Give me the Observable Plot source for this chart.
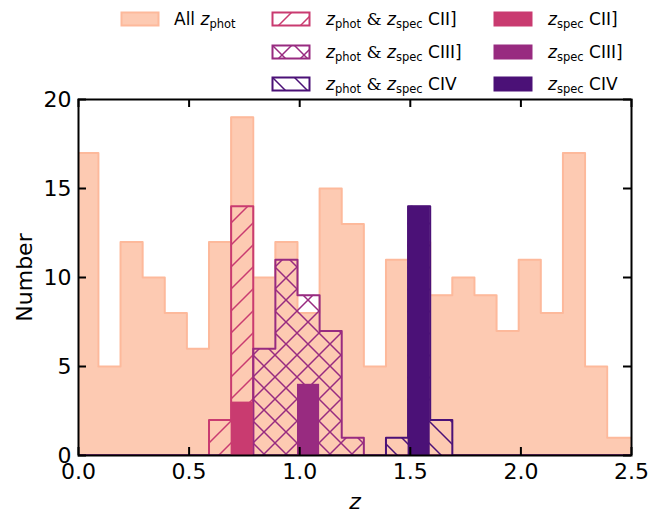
<!DOCTYPE html>
<html><head><meta charset="utf-8">
<script src="https://cdn.jsdelivr.net/npm/d3@7"></script>
<script src="https://cdn.jsdelivr.net/npm/@observablehq/plot@0.6"></script>
<style>
body{margin:0;background:#fff;font-family:"DejaVu Sans",sans-serif;}
#wrap{position:relative;width:662px;height:512px;overflow:hidden;}
#legend{position:relative;height:80px;width:662px;}
.sw{position:absolute;}
.lt{position:absolute;font-size:17px;line-height:20px;white-space:nowrap;color:#000;transform:translateY(-50%);}
.lt i{font-style:italic;}
.lt sub{font-size:11.5px;vertical-align:-3px;line-height:0;}
.lt .amp{font-family:"DejaVu Serif",serif;}
</style>
</head><body>
<div id="wrap"><div id="legend"></div><div id="chart"></div></div>
<script>
// ---- data ----
const binEdges = [-0.01,0.09,0.19,0.29,0.39,0.49,0.59,0.69,0.79,0.89,0.99,1.09,1.19,1.29,1.39,1.49,1.59,1.69,1.79,1.89,1.99,2.09,2.19,2.29,2.39,2.50];
const allPhot   = [17,5,12,10,8,6,12,19,10,12,8,15,13,5,11,12,9,10,9,7,11,8,17,5,1];
const photSpecCII  = [0,0,0,0,0,0,2,14,0,0,0,0,0,0,0,0,0,0,0,0,0,0,0,0,0];
const photSpecCIII = [0,0,0,0,0,0,0,0,6,11,9,7,1,0,0,0,0,0,0,0,0,0,0,0,0];
const photSpecCIV  = [0,0,0,0,0,0,0,0,0,0,0,0,0,0,1,14,2,0,0,0,0,0,0,0,0];
const specCII  = [0,0,0,0,0,0,0,3,0,0,0,0,0,0,0,0,0,0,0,0,0,0,0,0,0];
const specCIII = [0,0,0,0,0,0,0,0,0,0,4,0,0,0,0,0,0,0,0,0,0,0,0,0,0];
const specCIV  = [0,0,0,0,0,0,0,0,0,0,0,0,0,0,0,14,0,0,0,0,0,0,0,0,0];
const xTicks = [0, 0.5, 1.0, 1.5, 2.0, 2.5];
const yTicks = [0, 5, 10, 15, 20];

const colAllFill = "#fdcab2", colAllEdge = "#fdb99b";
const colCII = "#c93b70", colCIII = "#982b80", colCIV = "#4b1177";
const hatchGap = 22;

// ---- helpers ----
function stepPoints(counts){
  return binEdges.map((x,i)=>({x, y: i < counts.length ? counts[i] : counts[counts.length-1]}));
}
function bars(counts){
  return counts.map((c,i)=>({x1: binEdges[i], x2: binEdges[i+1], y: c})).filter(d=>d.y>0);
}
function patternDefs(sel, prefix){
  const defs = sel.append("defs");
  const g = hatchGap, h = g/4;
  const mk = (id, color, d) => defs.append("pattern").attr("id", prefix+id)
      .attr("patternUnits","userSpaceOnUse").attr("width",g).attr("height",g)
      .append("path").attr("d", d).attr("stroke", color).attr("stroke-width",1.5).attr("fill","none");
  const ne = `M${-h},${h}L${h},${-h}M0,${g}L${g},0M${g-h},${g+h}L${g+h},${g-h}`;
  const nw = `M${-h},${g-h}L${h},${g+h}M0,0L${g},${g}M${g-h},${-h}L${g+h},${h}`;
  mk("CII", colCII, ne);
  mk("CIII", colCIII, ne + nw);
  mk("CIV", colCIV, nw);
}

// ---- chart ----
const chart = Plot.plot({
  width: 662, height: 432,
  marginLeft: 78, marginRight: 31, marginTop: 19, marginBottom: 57,
  style: {fontSize: "22px", fontFamily: "DejaVu Sans, sans-serif", background: "transparent", overflow: "visible"},
  x: {domain: [0, 2.5]},
  y: {domain: [0, 20]},
  marks: [
    Plot.areaY(stepPoints(allPhot), {x: "x", y: "y", curve: "step-after", fill: colAllFill, clip: true}),
    Plot.line(stepPoints(allPhot), {x: "x", y: "y", curve: "step-after", stroke: colAllEdge, strokeWidth: 2, clip: true}),
    Plot.areaY(stepPoints(photSpecCII), {x: "x", y: "y", curve: "step-after", fill: "url(#hCII)", clip: true}),
    Plot.line(stepPoints(photSpecCII), {x: "x", y: "y", curve: "step-after", stroke: colCII, strokeWidth: 2, clip: true}),
    Plot.areaY(stepPoints(photSpecCIII), {x: "x", y: "y", curve: "step-after", fill: "url(#hCIII)", clip: true}),
    Plot.line(stepPoints(photSpecCIII), {x: "x", y: "y", curve: "step-after", stroke: colCIII, strokeWidth: 2, clip: true}),
    Plot.areaY(stepPoints(photSpecCIV), {x: "x", y: "y", curve: "step-after", fill: "url(#hCIV)", clip: true}),
    Plot.line(stepPoints(photSpecCIV), {x: "x", y: "y", curve: "step-after", stroke: colCIV, strokeWidth: 2, clip: true}),
    Plot.rectY(bars(specCII), {x1: "x1", x2: "x2", y: "y", fill: colCII}),
    Plot.rectY(bars(specCIII), {x1: "x1", x2: "x2", y: "y", fill: colCIII}),
    Plot.rectY(bars(specCIV), {x1: "x1", x2: "x2", y: "y", fill: colCIV}),
    // inward ticks on all four sides
    Plot.ruleX(xTicks, {x: d => d, y1: 0, y2: 0, insetTop: -8, stroke: "black", strokeWidth: 2}),
    Plot.ruleX(xTicks, {x: d => d, y1: 20, y2: 20, insetBottom: -8, stroke: "black", strokeWidth: 2}),
    Plot.ruleY(yTicks, {y: d => d, x1: 0, x2: 0, insetRight: -8, stroke: "black", strokeWidth: 2}),
    Plot.ruleY(yTicks, {y: d => d, x1: 2.5, x2: 2.5, insetLeft: -8, stroke: "black", strokeWidth: 2}),
    Plot.frame({stroke: "black", strokeWidth: 2}),
    Plot.axisX({ticks: xTicks, tickFormat: d3.format(".1f"), tickSize: 0, tickPadding: 8, label: null}),
    Plot.axisY({ticks: yTicks, tickFormat: d3.format("d"), tickSize: 0, tickPadding: 7, label: null}),
    Plot.text(["z"], {frameAnchor: "bottom", dy: 46, text: d => d, fontStyle: "italic", textAnchor: "middle", lineAnchor: "middle"}),
    Plot.text(["Number"], {frameAnchor: "left", dx: -54, rotate: -90, text: d => d, textAnchor: "middle", lineAnchor: "middle"})
  ]
});
patternDefs(d3.select(chart), "h");
const svgNode = d3.select(chart).node();
svgNode.insertBefore(svgNode.querySelector("defs"), svgNode.firstChild);
document.getElementById("chart").appendChild(chart);

// ---- legend ----
const amp = '<span class="amp">&amp;</span>';
const legendItems = [
  {kind: "fill", fill: colAllFill, stroke: colAllEdge, x: 121, y: 19, tx: 174, html: 'All <i>z</i><sub>phot</sub>'},
  {kind: "hatch", pat: "CII", stroke: colCII, x: 272, y: 19, tx: 326, html: `<i>z</i><sub>phot</sub> ${amp} <i>z</i><sub>spec</sub> CII]`},
  {kind: "hatch", pat: "CIII", stroke: colCIII, x: 272, y: 52, tx: 326, html: `<i>z</i><sub>phot</sub> ${amp} <i>z</i><sub>spec</sub> CIII]`},
  {kind: "hatch", pat: "CIV", stroke: colCIV, x: 272, y: 84, tx: 326, html: `<i>z</i><sub>phot</sub> ${amp} <i>z</i><sub>spec</sub> CIV`},
  {kind: "fill", fill: colCII, stroke: colCII, x: 494, y: 19, tx: 548, html: '<i>z</i><sub>spec</sub> CII]'},
  {kind: "fill", fill: colCIII, stroke: colCIII, x: 494, y: 52, tx: 548, html: '<i>z</i><sub>spec</sub> CIII]'},
  {kind: "fill", fill: colCIV, stroke: colCIV, x: 494, y: 84, tx: 548, html: '<i>z</i><sub>spec</sub> CIV'}
];
const legend = d3.select("#legend");
legendItems.forEach((it, k) => {
  const s = legend.append("svg").attr("class", "sw").attr("width", 40).attr("height", 16)
    .style("left", (it.x - 1) + "px").style("top", (it.y - 8) + "px");
  if (it.kind === "hatch") patternDefs(s, "L" + k);
  s.append("rect").attr("x", 1.5).attr("y", 1.5).attr("width", 37).attr("height", 13)
    .attr("fill", it.kind === "hatch" ? `url(#L${k}${it.pat})` : it.fill)
    .attr("stroke", it.stroke).attr("stroke-width", 2);
  legend.append("div").attr("class", "lt").style("left", it.tx + "px").style("top", it.y + "px").html(it.html);
});
</script>
</body></html>
